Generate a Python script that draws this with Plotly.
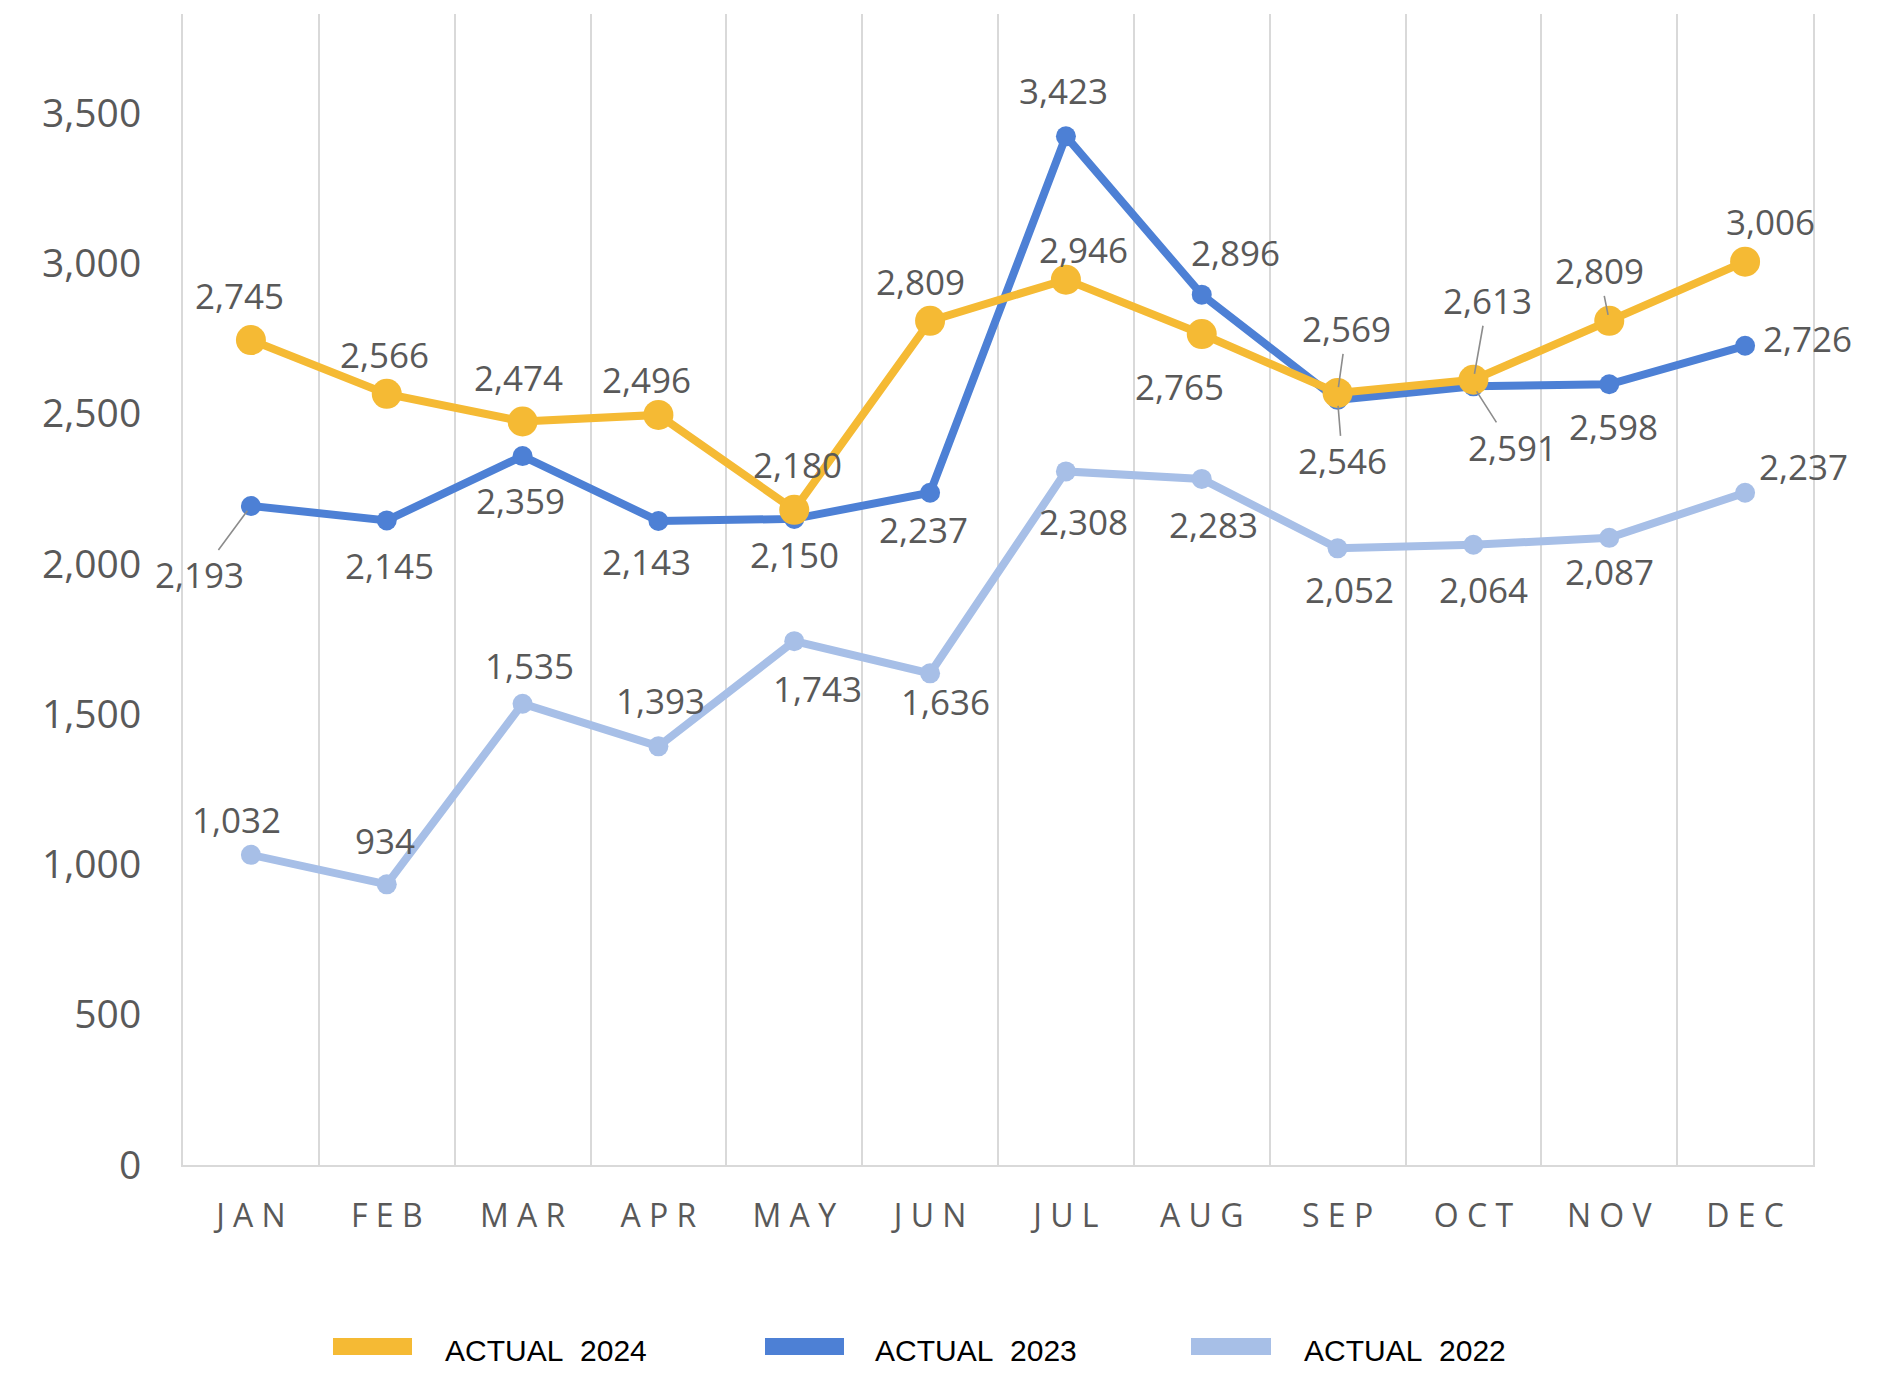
import plotly.graph_objects as go

# ---------------- data ----------------
months = ["JAN", "FEB", "MAR", "APR", "MAY", "JUN", "JUL", "AUG", "SEP", "OCT", "NOV", "DEC"]
actual_2024 = [2745, 2566, 2474, 2496, 2180, 2809, 2946, 2765, 2569, 2613, 2809, 3006]
actual_2023 = [2193, 2145, 2359, 2143, 2150, 2237, 3423, 2896, 2546, 2591, 2598, 2726]
actual_2022 = [1032, 934, 1535, 1393, 1743, 1636, 2308, 2283, 2052, 2064, 2087, 2237]
y_tick_values = [0, 500, 1000, 1500, 2000, 2500, 3000, 3500]
series_names = ["ACTUAL\u00a0 2024", "ACTUAL\u00a0 2023", "ACTUAL\u00a0 2022"]

# ---------------- label placement (pixel offsets from each point; dy > 0 = down) ----------------
off_2024 = [(-11, -45), (-2, -39), (-4, -44), (-12, -35), (3, -45), (-10, -39),
            (18, -30), (-22, 52), (9, -64), (14, -79), (-10, -50), (25, -40)]
lead_2024 = [False, False, False, False, False, False, False, False, True, True, True, False]
off_2023 = [(-51, 69), (3, 45), (-2, 44), (-12, 41), (0, 36), (-7, 37),
            (-2, -46), (34, -42), (5, 61), (39, 61), (4, 42), (62, -7)]
lead_2023 = [True, False, False, False, False, False, False, False, True, True, False, False]
off_2022 = [(-14, -35), (-2, -44), (7, -38), (2, -46), (23, 47), (15, 28),
            (18, 50), (12, 46), (12, 41), (10, 45), (0, 34), (58, -26)]
lead_2022 = [False] * 12

# ---------------- style ----------------
W, H = 1885, 1378
PAGE_OFF = 8                     # default body margin of the html page
L, R, T, B = 183 - PAGE_OFF, 1813 - PAGE_OFF, 14 - PAGE_OFF, 1165 - PAGE_OFF
GOLD, BLUE, LIGHT = "#F5BA34", "#4D80D5", "#A7BFE7"
LABEL_GRAY = "#595959"
GRID = "#D9D9D9"
FONT = "Open Sans"

series = [
    dict(name=series_names[2], vals=actual_2022, color=LIGHT, msize=20, width=8, off=off_2022, lead=lead_2022),
    dict(name=series_names[1], vals=actual_2023, color=BLUE, msize=20, width=8, off=off_2023, lead=lead_2023),
    dict(name=series_names[0], vals=actual_2024, color=GOLD, msize=30, width=8, off=off_2024, lead=lead_2024),
]

fig = go.Figure()
annotations = []
for s in series:
    fig.add_trace(go.Scatter(
        x=months, y=s["vals"], mode="lines+markers", name=s["name"],
        line=dict(color=s["color"], width=s["width"]),
        marker=dict(color=s["color"], size=s["msize"]),
        showlegend=False, hoverinfo="x+y",
    ))
    for m, v, (dx, dy), lead in zip(months, s["vals"], s["off"], s["lead"]):
        a = dict(x=m, y=v, xref="x", yref="y", text=f"{v:,}",
                 font=dict(family=FONT, size=35, color=LABEL_GRAY))
        if lead:
            a.update(showarrow=True, ax=dx, ay=dy, arrowhead=0, arrowwidth=1.6,
                     arrowcolor="#8C8C8C", standoff=6)
        else:
            a.update(showarrow=False, xshift=dx, yshift=-dy)
        annotations.append(a)

# ---------------- custom legend (page pixel positions) ----------------
def px_x(p):
    return (p - PAGE_OFF - L) / (R - L)

def px_y(p):
    return (B - (p - PAGE_OFF)) / (B - T)

legend_swatch_x = [(333, 412), (765, 844), (1191, 1271)]
legend_text_x = [443, 873, 1302]
legend_colors = [GOLD, BLUE, LIGHT]
shapes = []
for (x0, x1), tx, c, nm in zip(legend_swatch_x, legend_text_x, legend_colors, series_names):
    shapes.append(dict(type="rect", xref="paper", yref="paper",
                       x0=px_x(x0), x1=px_x(x1), y0=px_y(1355), y1=px_y(1338),
                       fillcolor=c, line=dict(width=0)))
    annotations.append(dict(x=px_x(tx), y=px_y(1350), xref="paper", yref="paper",
                            xanchor="left", yanchor="middle", showarrow=False, text=nm,
                            font=dict(family="Liberation Sans", size=30, color="#000000")))

fig.update_layout(
    width=W, height=H,
    margin=dict(l=L, r=W - R, t=T, b=H - B),
    paper_bgcolor="white", plot_bgcolor="white",
    annotations=annotations, shapes=shapes,
    showlegend=False,
)
fig.update_xaxes(
    type="category", categoryorder="array", categoryarray=months,
    tickmode="array", tickvals=months, ticktext=[" ".join(m) for m in months],
    tickson="boundaries", showgrid=True, gridcolor=GRID, gridwidth=2,
    showline=True, linecolor=GRID, linewidth=2, ticks="", ticklabelstandoff=22,
    tickfont=dict(family=FONT, size=32, color=LABEL_GRAY),
    range=[-0.5, 11.5], zeroline=False,
)
fig.update_yaxes(
    range=[0, 3830], tickmode="array", tickvals=y_tick_values,
    ticktext=[f"{v:,}" for v in y_tick_values],
    showgrid=False, zeroline=False, showline=True, mirror=True,
    linecolor=GRID, linewidth=2, ticks="", ticklabelstandoff=32,
    tickfont=dict(family=FONT, size=39, color=LABEL_GRAY),
)

fig.write_html("out.html")
